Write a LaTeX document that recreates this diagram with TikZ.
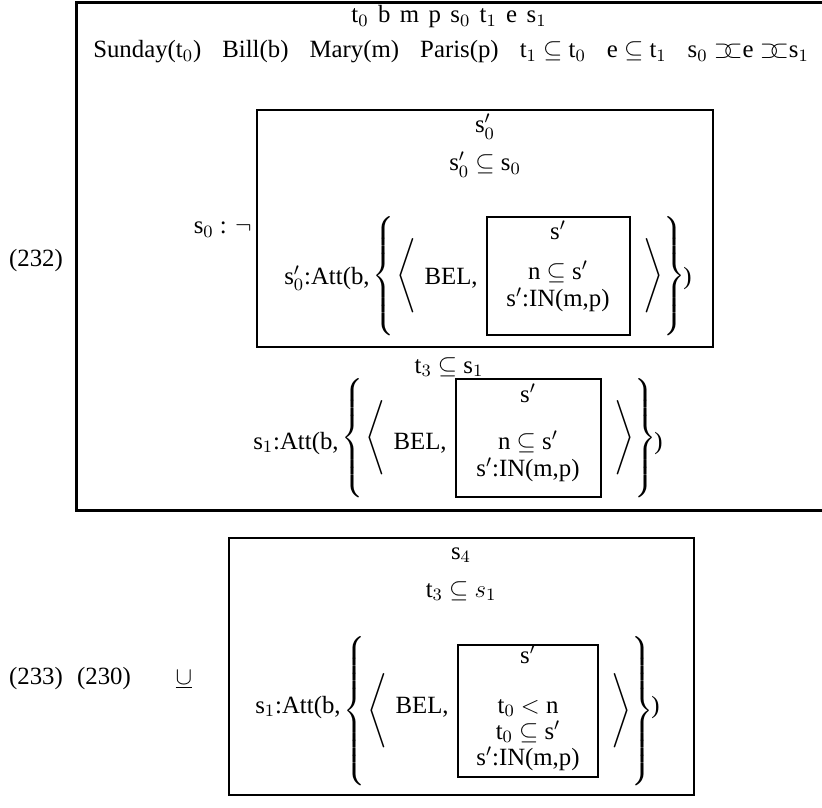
\RequirePackage{fix-cm}
\documentclass[tikz,border=0pt]{standalone}
\usepackage{amsmath,amssymb}
\usepackage{fontspec}
\setmainfont{Liberation Serif}
\usepackage{tikz}

\newcommand{\gap}{\hspace{0.85em}}
\newcommand{\sgap}{\hspace{0.38em}}
\newcommand{\ovl}{$\mathord{\supset\mkern-7mu\subset}$}
\newcommand{\lbr}[2]{$\delimitershortfall=0pt\left#1\vcenter{\hbox{\rule{0pt}{#2}}}\right.$}
\newcommand{\rbr}[2]{$\delimitershortfall=0pt\left.\vcenter{\hbox{\rule{0pt}{#2}}}\right#1$}

\begin{document}
\begin{tikzpicture}[x=0.5pt,y=-0.5pt,font=\fontsize{12.4pt}{15pt}\selectfont,
    frame/.style={line width=1.5pt},
    drsbox/.style={line width=1.1pt},
    txt/.style={inner sep=0pt,anchor=base},
    dlm/.style={inner sep=0pt}]
    \useasboundingbox (0,0) rectangle (822,807);

    % (232): outer box, open at the right
    \draw[frame] (822,3) -- (76,3) -- (76,510) -- (822,510);
    \node[txt] (n232) at (36,266) {(232)};
    \node[txt] (univ) at (449,23) {t$_0$\sgap b\sgap m\sgap p\sgap s$_0$\sgap t$_1$\sgap e\sgap s$_1$};
    \node[txt] (conds) at (451,58) {Sunday(t$_0$)\gap Bill(b)\gap Mary(m)\gap Paris(p)\gap
        t$_1$ $\subseteq$ t$_0$\gap e $\subseteq$ t$_1$\gap s$_0$ \ovl e \ovl s$_1$};

    % negated box
    \node[txt,anchor=base east] (neg) at (252,234) {s$_0$ : $\neg$};
    \draw[drsbox] (257,110) rectangle (713,347);
    \node[txt] (nuniv) at (485,133) {s$'_0$};
    \node[txt] (ncond) at (485,171) {s$'_0$ $\subseteq$ s$_0$};

    % s0' row
    \node[txt,anchor=base east] (att0) at (370,284) {s$'_0$:Att(b,};
    \node[dlm] (lb0) at (385,276) {\lbr{\{}{55pt}};
    \node[dlm] (la0) at (408,276) {\lbr{\langle}{39pt}};
    \node[txt,anchor=base east] (bel0) at (478,284) {BEL,};
    \draw[drsbox] (487,217) rectangle (630,335);
    \node[txt] (s0a) at (558,240) {s$'$};
    \node[txt] (s0b) at (558,279) {n $\subseteq$ s$'$};
    \node[txt] (s0c) at (558,306) {s$'$:IN(m,p)};
    \node[dlm] (ra0) at (652,276) {\rbr{\rangle}{39pt}};
    \node[dlm] (rb0) at (673,276) {\rbr{\}}{55pt}};
    \node[txt,anchor=base west] (cl0) at (683,284) {)};

    \node[txt] (t3a) at (449,373) {t$_3$ $\subseteq$ s$_1$};

    % s1 row
    \node[txt,anchor=base east] (att1) at (339,449) {s$_1$:Att(b,};
    \node[dlm] (lb1) at (354,438) {\lbr{\{}{55pt}};
    \node[dlm] (la1) at (377,438) {\lbr{\langle}{39pt}};
    \node[txt,anchor=base east] (bel1) at (447,449) {BEL,};
    \draw[drsbox] (456,379) rectangle (601,497);
    \node[txt] (s1a) at (528,402) {s$'$};
    \node[txt] (s1b) at (528,449) {n $\subseteq$ s$'$};
    \node[txt] (s1c) at (528,476) {s$'$:IN(m,p)};
    \node[dlm] (ra1) at (623,438) {\rbr{\rangle}{39pt}};
    \node[dlm] (rb1) at (644,438) {\rbr{\}}{55pt}};
    \node[txt,anchor=base west] (cl1) at (654,449) {)};

    % (233)
    \node[txt] (n233) at (36,684) {(233)};
    \node[txt] (n230) at (104,684) {(230)};
    \node[txt] (cup) at (184,684) {$\underline{\cup}$};
    \draw[drsbox] (229,538) rectangle (694,795);
    \node[txt] (s4) at (461,559) {s$_4$};
    \node[txt] (t3b) at (461,597) {t$_3$ $\subseteq$ $s_1$};

    % s1 row, second box
    \node[txt,anchor=base east] (att2) at (341,713) {s$_1$:Att(b,};
    \node[dlm] (lb2) at (356,711) {\lbr{\{}{67pt}};
    \node[dlm] (la2) at (379,711) {\lbr{\langle}{39pt}};
    \node[txt,anchor=base east] (bel2) at (449,713) {BEL,};
    \draw[drsbox] (458,645) rectangle (598,777);
    \node[txt] (s2a) at (528,663) {s$'$};
    \node[txt] (s2b) at (528,713) {t$_0$ $<$ n};
    \node[txt] (s2c) at (528,739) {t$_0$ $\subseteq$ s$'$};
    \node[txt] (s2d) at (528,765) {s$'$:IN(m,p)};
    \node[dlm] (ra2) at (620,711) {\rbr{\rangle}{39pt}};
    \node[dlm] (rb2) at (641,711) {\rbr{\}}{67pt}};
    \node[txt,anchor=base west] (cl2) at (651,713) {)};
\end{tikzpicture}
\end{document}
